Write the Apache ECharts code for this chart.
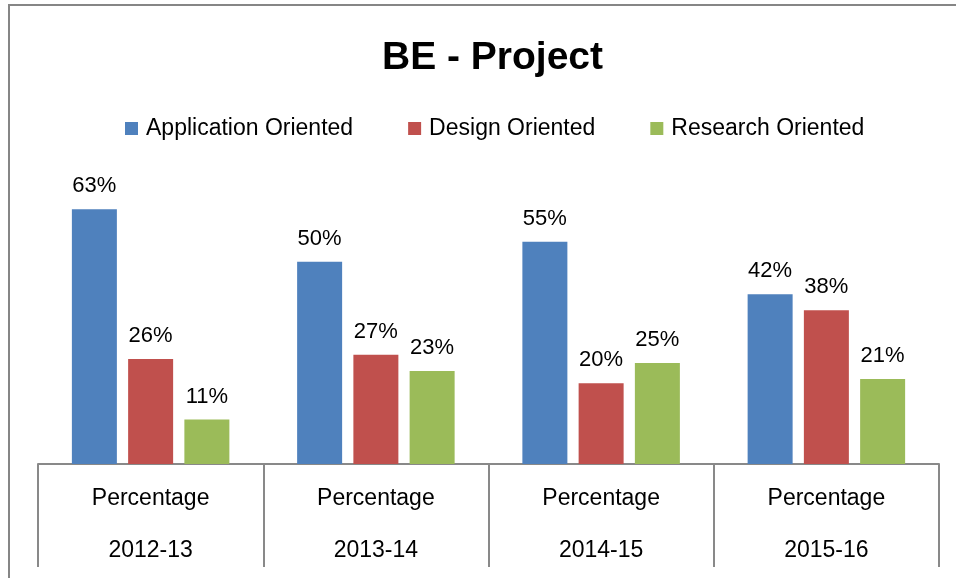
<!DOCTYPE html>
<html>
<head>
<meta charset="utf-8">
<script src="https://cdn.jsdelivr.net/npm/echarts@6/dist/echarts.min.js"></script>
<style>
  html, body { margin: 0; padding: 0; background: #fff; }
  #chart { width: 956px; height: 578px; }
</style>
</head>
<body>
<div id="chart"></div>
<script>
var years = ["2012-13", "2013-14", "2014-15", "2015-16"];
var groupLabel = "Percentage";
var seriesNames = ["Application Oriented", "Design Oriented", "Research Oriented"];
var application = [63, 50, 55, 42];
var design = [26, 27, 20, 38];
var research = [11, 23, 25, 21];
var colors = ["#4F81BD", "#C0504D", "#9BBB59"];

var font = "Liberation Sans";
var myChart = echarts.init(document.getElementById("chart"));

function barSeries(name, data) {
  return {
    name: name,
    type: "bar",
    data: data,
    barWidth: 45,
    barGap: "25%",
    label: {
      show: true,
      position: "top",
      distance: 12,
      formatter: "{c}%",
      color: "#000",
      fontFamily: font,
      fontSize: 22,
    },
  };
}

var option = {
  color: colors,
  animation: false,
  title: {
    text: "BE - Project",
    left: 377,
    top: 34,
    textStyle: {
      fontFamily: font,
      fontWeight: "bold",
      fontSize: 39,
      color: "#000",
    },
  },
  legend: {
    data: seriesNames,
    left: 120,
    top: 112,
    icon: "rect",
    itemWidth: 13,
    itemHeight: 13,
    itemGap: 55,
    textStyle: {
      fontFamily: font,
      fontSize: 23,
      color: "#000",
      padding: [0, 0, 0, 3],
    },
  },
  grid: {
    left: 38,
    right: 17,
    top: 181,
    bottom: 114,
  },
  xAxis: {
    type: "category",
    data: years,
    axisLine: { lineStyle: { color: "#898989", width: 2 } },
    axisTick: {
      show: true,
      interval: 0,
      length: 103,
      lineStyle: { color: "#898989", width: 2 },
    },
    axisLabel: {
      interval: 0,
      margin: 9,
      fontFamily: font,
      fontSize: 23,
      color: "#000",
      lineHeight: 52,
      formatter: function (v) {
        return groupLabel + "\n" + v;
      },
    },
  },
  yAxis: {
    type: "value",
    min: 0,
    max: 70,
    show: false,
    splitLine: { show: false },
  },
  graphic: [
    {
      type: "polyline",
      shape: { points: [[9, 600], [9, 5], [970, 5]] },
      style: { stroke: "#868686", lineWidth: 2, fill: null },
    },
  ],
  series: [
    barSeries(seriesNames[0], application),
    barSeries(seriesNames[1], design),
    barSeries(seriesNames[2], research),
  ],
};
myChart.setOption(option);
</script>
</body>
</html>
